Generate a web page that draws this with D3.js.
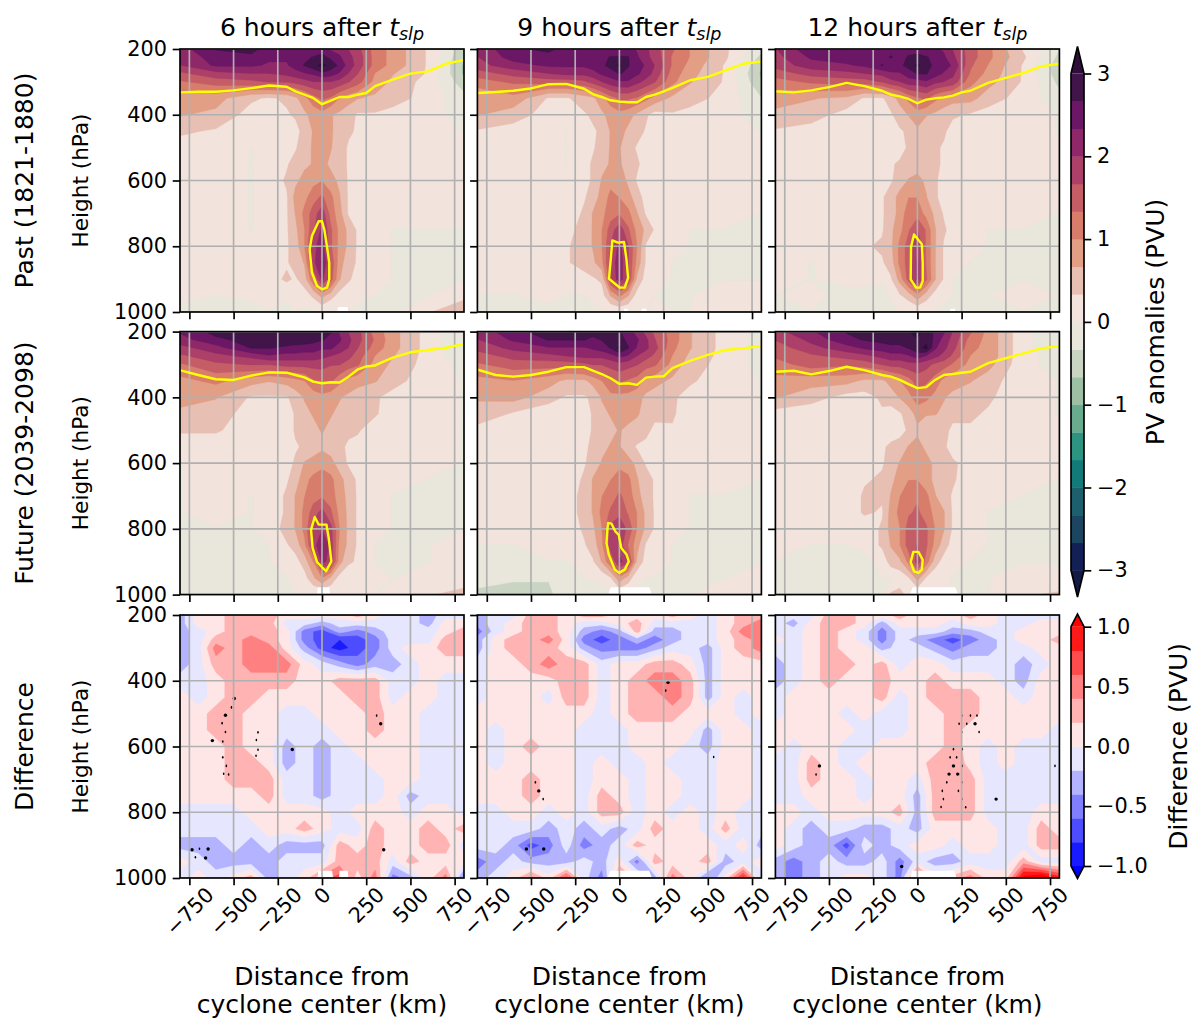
<!DOCTYPE html>
<html><head><meta charset="utf-8">
<script src="https://cdn.jsdelivr.net/npm/d3@7"></script>
<style>html,body{margin:0;background:#fff}svg text{font-family:"DejaVu Sans";fill:#000}</style>
</head><body><svg id="c" width="1192" height="1021"></svg>
<script>
// ---------- grids (km from centre, hPa) ----------
const pvX=[-800,-600,-400,-300,-200,-150,-100,-50,0,50,100,150,200,300,400,600,800];
const diffX=[-800,-700,-600,-500,-400,-300,-200,-100,0,100,200,300,400,500,600,700,800];
const gridP=[200,225,250,275,300,350,400,450,500,550,600,650,700,750,800,850,900,950,1000];
const tropX=[-800,-700,-600,-500,-400,-300,-200,-150,-100,-50,0,50,100,150,200,250,300,400,500,600,700,800];
const columnTitles=["6 hours after ","9 hours after ","12 hours after "];
const rowTitles=["Past (1821-1880)","Future (2039-2098)","Difference"];
const xTicks=[-750,-500,-250,0,250,500,750];
const yTicks=[200,400,600,800,1000];
const pvBarTicks=[-3,-2,-1,0,1,2,3];
const diffBarTicks=[-1,-0.5,0,0.5,1];
// ---------- PV anomalies, tenths of PVU ----------
const past6=[
[22,27,28,25,24,24,24,24,25,23,22,20,18,12,9,3,-5],
[21,25,26,24,24,25,26,27,28,26,24,21,19,12,9,3,-6],
[20,24,24,23,23,25,27,29,31,29,26,22,19,12,9,3,-7],
[16,19,20,20,21,22,23,24,26,25,23,20,17,10,7,3,-7],
[13,15,16,17,17,18,19,20,20,20,19,17,15,9,6,2,-5],
[8,8,4,3,4,6,9,12,14,13,10,8,7,6,5,2,-2],
[7,6,2,2,3,4,6,8,9,7,6,5,3,3,2,1,-1],
[4,3,1,1,2,2,5,7,8,7,6,4,3,2,2,1,0],
[2,2,0,1,2,3,6,7,8,7,5,3,2,1,1,1,1],
[1,1,0,1,3,5,6,7,8,6,5,3,2,1,1,1,1],
[1,1,0,1,4,6,8,9,10,8,6,3,2,1,1,1,1],
[1,1,0,1,3,8,9,12,14,11,7,3,2,1,1,1,1],
[1,1,0,1,3,7,11,15,19,12,8,3,2,1,1,1,1],
[1,1,0,1,3,6,10,16,21,14,9,6,3,1,0,0,0],
[1,1,1,1,3,5,10,19,22,14,9,6,3,1,0,0,0],
[1,1,1,2,3,5,7,19,24,16,8,5,3,1,0,0,0],
[1,1,1,2,4,3,5,13,21,15,7,4,2,1,0,0,0],
[1,0,1,1,1,1,2,4,8,5,2,1,1,0,-1,0,2],
[-1,-2,-2,0,-2,0,-1,0,0,-1,2,0,-1,-1,-1,3,7]];
const past9=[
[21,26,28,25,24,25,25,25,25,25,23,21,18,14,10,4,-2],
[20,25,25,25,24,25,26,27,27,27,24,21,19,13,10,4,-4],
[19,22,24,24,24,25,26,28,31,27,25,23,20,13,9,3,-6],
[15,18,20,21,21,22,24,25,27,26,24,22,19,12,8,3,-7],
[12,14,15,15,16,18,20,22,23,23,21,19,17,11,7,3,-6],
[7,9,3,3,5,6,9,12,14,14,13,11,9,6,5,2,-3],
[7,5,2,1,3,4,6,8,9,8,6,4,2,3,2,1,-1],
[3,2,1,0,2,3,4,7,8,6,5,3,1,1,1,1,0],
[2,1,1,0,1,3,5,7,7,5,3,2,1,1,1,1,1],
[1,1,1,0,2,4,6,7,7,6,4,2,1,1,1,1,1],
[1,1,1,1,2,4,7,9,9,6,3,2,1,1,1,1,1],
[1,1,1,2,3,5,8,11,10,8,5,2,1,1,1,1,1],
[1,1,1,1,4,7,9,12,13,11,7,3,1,1,1,1,0],
[1,2,2,2,5,7,10,15,19,14,9,6,3,1,0,0,0],
[1,3,2,3,5,7,10,17,21,17,10,3,2,1,0,0,0],
[1,3,3,3,5,6,9,18,22,17,9,3,1,0,0,0,0],
[1,1,3,1,2,3,4,17,22,17,6,2,1,0,0,0,0],
[0,0,1,0,0,1,2,7,11,7,2,1,0,0,0,1,1],
[-2,-3,-1,-2,-3,-1,0,0,0,0,0,0,1,0,0,2,2]];
const past12=[
[20,26,27,26,25,26,26,26,25,25,24,23,20,15,11,3,-3],
[19,24,25,25,26,27,26,27,28,27,26,24,21,15,11,4,-4],
[18,22,23,24,27,25,26,28,31,28,26,25,23,14,10,3,-5],
[15,18,19,20,21,23,23,25,27,27,25,23,21,13,9,3,-5],
[12,14,15,15,17,19,20,22,22,23,21,20,19,11,8,3,-4],
[8,7,6,3,3,5,8,11,13,14,11,9,8,8,5,2,-2],
[6,5,2,2,2,3,5,7,9,7,6,5,4,3,2,1,0],
[3,2,1,1,1,2,3,4,6,5,4,4,2,1,1,1,0],
[1,1,1,1,1,1,2,4,5,5,4,3,2,1,1,1,1],
[1,1,1,1,1,3,4,5,5,4,4,3,1,1,1,1,1],
[1,1,1,1,3,3,5,7,8,6,4,2,1,1,1,1,1],
[1,1,2,3,3,5,8,10,10,7,4,2,1,1,1,1,1],
[1,1,1,3,3,5,8,12,12,9,6,3,1,1,1,1,0],
[1,1,1,3,3,6,9,13,17,13,7,4,2,1,0,0,0],
[1,1,2,3,4,6,11,15,20,13,7,3,2,1,0,0,0],
[1,0,1,3,3,5,11,15,21,13,7,3,1,0,0,0,0],
[1,0,1,1,1,3,8,15,21,14,7,3,0,0,0,0,0],
[0,1,-1,-1,-2,1,3,5,9,5,2,1,0,0,0,1,0],
[-1,0,-1,-2,-2,-3,0,0,0,0,0,-1,0,0,0,0,0]];
const future6=[
[24,28,29,28,27,27,27,27,28,27,23,20,18,12,8,2,-3],
[22,26,28,29,29,28,29,28,27,26,24,21,18,13,8,2,-3],
[19,22,27,27,26,26,25,25,24,24,22,20,17,12,8,2,-3],
[16,19,21,23,22,22,22,22,21,20,19,18,15,10,7,2,-2],
[13,16,17,17,18,18,18,18,18,17,17,15,14,9,6,2,-1],
[9,11,8,7,8,9,10,13,14,14,11,9,8,7,5,1,0],
[8,7,3,3,3,5,7,8,9,8,7,6,5,4,2,1,0],
[6,5,2,1,1,4,6,7,8,7,6,4,4,4,1,1,0],
[4,4,1,1,1,4,5,6,7,6,4,4,4,1,1,1,0],
[1,1,1,1,1,3,4,5,6,5,4,3,2,1,1,1,0],
[0,1,1,1,2,4,7,8,9,8,5,3,2,1,1,1,0],
[0,1,1,1,3,5,9,11,12,11,8,5,3,1,1,0,0],
[0,1,0,1,4,7,10,12,13,12,8,6,3,1,0,0,0],
[0,1,0,1,4,7,11,15,18,14,9,6,3,1,0,0,0],
[-1,0,0,1,5,7,11,18,20,18,10,6,3,1,0,0,0],
[-1,-1,0,0,3,5,9,18,24,19,9,6,3,0,0,0,1],
[-1,0,0,0,1,2,5,10,21,19,8,4,3,0,0,0,1],
[-1,-1,0,0,0,1,2,6,10,6,2,1,1,1,0,1,1],
[-1,-3,-1,0,-1,0,0,0,0,0,0,1,1,0,1,3,5]];
const future9=[
[21,26,28,27,27,28,28,28,27,25,22,19,16,12,7,2,-1],
[20,24,27,27,27,26,27,27,28,26,24,21,17,12,7,2,-1],
[18,21,23,23,23,24,25,27,31,27,23,21,18,11,7,2,-1],
[15,18,19,20,21,21,21,22,24,23,20,18,16,10,6,2,-1],
[13,15,15,15,16,17,17,18,19,18,17,15,14,9,5,2,-1],
[9,10,8,6,6,8,10,13,14,13,12,9,8,6,4,1,0],
[7,8,5,3,3,4,7,9,9,9,8,6,5,4,2,1,0],
[6,3,1,1,1,4,6,7,8,8,7,6,5,4,1,1,0],
[2,1,1,1,1,4,5,6,7,6,6,5,2,3,1,1,1],
[1,1,1,1,2,5,6,7,7,5,3,2,1,2,1,1,1],
[1,1,1,1,3,5,7,8,9,8,6,3,2,1,1,1,1],
[1,1,1,1,4,7,9,10,12,11,7,5,3,1,1,1,0],
[1,1,1,1,5,7,10,12,14,12,8,5,3,1,0,0,0],
[1,1,1,1,5,7,11,14,16,13,10,6,3,1,0,0,0],
[1,1,1,1,4,6,10,18,19,16,10,6,3,1,0,0,0],
[0,0,1,1,3,5,9,19,19,13,8,3,1,0,0,0,0],
[-1,0,0,0,1,3,7,13,21,18,6,2,1,0,0,0,0],
[-2,-3,-3,-1,0,1,1,3,9,5,1,0,0,0,0,0,1],
[-4,-4,-4,-1,-2,-3,-2,0,0,0,-1,-2,0,0,0,2,3]];
const future12=[
[19,23,27,28,28,29,29,30,31,29,26,24,20,14,9,1,-3],
[17,21,26,27,28,28,28,30,30,29,26,22,19,12,9,1,-3],
[15,19,22,24,25,26,26,27,29,31,24,21,18,11,9,1,-2],
[14,16,18,19,21,22,22,23,25,23,21,19,16,10,9,1,-1],
[12,15,14,15,17,18,18,19,19,18,16,15,13,9,8,1,-1],
[9,8,8,6,6,8,10,12,15,14,12,9,8,7,5,1,0],
[7,5,2,2,4,5,7,9,12,11,9,7,6,5,4,1,0],
[2,1,1,1,3,2,3,5,8,7,7,6,4,4,3,1,0],
[1,1,1,1,3,2,2,4,6,5,4,4,3,3,2,1,1],
[1,1,1,1,3,4,5,7,8,6,5,4,2,3,1,1,1],
[1,1,1,1,3,5,7,9,10,8,6,5,4,2,1,1,1],
[1,1,1,3,4,6,8,10,10,8,6,5,4,1,1,1,0],
[1,1,1,4,4,7,10,12,13,11,7,5,3,1,1,0,0],
[1,1,1,4,3,8,11,13,14,12,9,7,3,1,0,0,0],
[1,1,1,1,4,8,10,15,16,14,10,7,3,1,0,0,0],
[1,0,0,1,4,7,10,15,17,14,9,5,2,1,0,0,0],
[0,-1,-1,-1,1,5,6,11,19,12,5,2,1,0,0,0,0],
[-1,-2,-3,-1,0,0,1,3,8,3,1,1,0,-2,0,1,1],
[-2,-3,-3,0,-2,4,5,2,0,0,0,0,-1,0,0,3,4]];
// ---------- differences, tenths of PVU ----------
const diff6=[
[-3,1,1,3,3,3,1,1,1,1,3,1,-1,-1,-3,-1,-1],
[-3,1,1,3,3,3,-1,-1,-3,-1,-1,-1,-1,-1,-3,1,1],
[-3,-1,1,3,3,3,1,-5,-7,-3,-5,-3,-1,-1,-1,1,3],
[-3,-1,3,3,5,3,1,-5,-7,-8,-7,-5,-1,-1,-1,3,3],
[-3,-1,5,3,5,5,1,-3,-7,-9,-7,-5,-1,1,1,3,3],
[-3,-1,3,3,5,5,5,1,-1,-3,-5,-3,-3,-1,1,1,1],
[-1,-1,1,3,3,3,3,1,1,3,3,3,-1,-1,1,-1,-1],
[1,-1,1,3,3,1,1,1,1,1,3,3,-1,1,1,-1,-1],
[1,1,3,3,1,1,-1,-1,1,1,1,3,1,1,-1,-1,-1],
[1,1,3,3,1,1,-1,-1,-1,1,1,3,1,1,-1,-1,-1],
[1,1,1,3,1,1,-3,-1,-3,-1,1,1,1,1,-1,-1,-1],
[1,1,1,3,3,1,-3,-1,-3,-1,-1,1,1,1,-1,-1,-1],
[1,1,1,3,3,3,-1,-1,-3,-1,-1,-1,1,1,-1,-1,-1],
[1,1,1,1,1,3,-1,-1,-3,-1,-1,-1,1,-3,-1,-1,-1],
[-1,-1,-1,-1,1,1,1,1,1,-1,1,1,1,-1,1,1,-1],
[-1,-1,-1,-1,-1,1,1,3,1,-1,-1,3,1,1,3,1,3],
[-3,-3,-3,-1,-3,-1,-3,-3,-3,3,1,3,1,1,3,3,-1],
[1,-1,-3,-3,-3,-3,-1,-1,-1,3,3,3,-1,3,1,1,1],
[-1,1,-1,1,3,-3,-1,1,5,7,1,5,-5,-3,1,5,-5]];
const diff9=[
[-3,-1,-1,3,3,1,3,3,1,1,1,3,1,-1,1,3,3],
[-3,-1,1,3,3,1,-1,-1,1,3,-1,-1,-1,-1,1,3,5],
[-5,-1,1,3,3,1,-3,-5,-3,3,-3,-3,-1,-1,1,5,6],
[-3,1,3,3,5,1,-5,-7,-5,-3,-5,-3,-1,-1,1,3,5],
[-3,1,3,3,3,1,-3,-5,-5,-5,-3,-1,-1,-3,1,3,5],
[-1,1,1,3,5,3,3,-1,1,1,3,3,1,-3,1,1,1],
[-1,1,1,1,1,3,3,-1,1,3,5,5,3,-3,1,1,1],
[-1,1,1,1,-1,3,3,-1,1,3,3,5,3,-3,1,-1,1],
[1,1,1,1,1,1,1,-1,1,3,3,3,1,1,1,-1,1],
[1,-1,1,1,1,1,-1,-1,-1,1,1,1,1,-3,1,1,-1],
[1,-1,1,3,1,1,-1,-1,-1,1,1,1,-1,-3,1,1,-1],
[1,-1,1,1,1,1,-1,1,-1,-1,1,-1,-1,-1,1,1,-1],
[1,1,1,3,1,1,-1,1,1,-1,1,1,-1,-1,1,1,-1],
[1,1,1,3,1,1,-1,3,1,-1,1,1,-1,-1,1,1,-1],
[-1,-1,1,1,-1,1,-1,3,3,-1,1,-1,1,-1,1,-1,-1],
[-1,-1,-1,-1,-3,-1,-3,-1,-3,-1,3,1,1,-1,3,-1,-1],
[-1,-1,-3,-7,-5,-1,-5,-3,-1,3,1,1,1,1,-1,1,-3],
[-5,-3,-1,-3,-3,-3,-1,-3,1,-5,3,1,1,3,-3,-1,1],
[-3,-1,1,5,1,7,-1,-5,5,1,-3,5,1,-5,1,9,-1]];
const diff12=[
[-1,-1,-1,3,3,1,1,3,1,1,1,3,1,-1,-1,-1,-1],
[-1,-3,1,3,3,1,-3,1,1,1,-1,1,1,-1,-1,1,1],
[-1,-1,1,3,1,-1,-5,-1,-1,-1,-3,-3,-1,-1,1,1,1],
[1,-1,1,3,1,-1,-5,-1,-3,-5,-7,-5,-3,-1,1,1,3],
[-1,-1,1,3,1,1,-3,-1,-1,-3,-5,-3,-3,-1,-1,1,1],
[-3,-1,1,3,3,1,3,-1,1,1,-1,-1,-1,-1,-3,-1,1],
[-3,-1,1,3,1,1,3,1,1,3,1,1,1,-1,-3,1,1],
[-1,1,1,1,1,1,3,-1,1,3,3,3,1,1,-1,1,1],
[-1,1,1,1,-1,1,-1,-1,1,1,3,3,1,1,1,1,1],
[1,1,1,1,1,-1,-1,-1,1,1,3,1,1,1,1,1,-1],
[1,-1,1,1,-1,-1,1,1,1,1,3,1,-1,1,-1,-1,-1],
[-1,-1,3,1,-1,1,1,1,1,3,4,1,-1,1,-1,-1,-1],
[-1,-1,3,1,1,-1,1,1,-1,3,4,3,-1,-1,-1,-1,-1],
[-1,-1,1,1,1,-1,1,1,-3,3,3,3,-1,-1,-1,-1,-1],
[1,1,-1,1,1,1,1,3,-3,3,3,3,-1,-1,-1,1,1],
[1,-1,-3,-1,-1,-3,-3,-1,-3,1,1,1,1,-1,-1,3,1],
[1,-1,-3,-3,-7,-1,-3,-1,1,1,-1,1,1,-1,-1,3,3],
[-3,-5,-3,-1,-3,-3,-1,-5,-1,-3,-3,-1,-1,-1,3,-1,-1],
[-3,-5,-3,-1,1,1,-1,-5,9,1,3,5,1,1,11,13,9]];
// ---------- yellow contours ----------
const tropPast6=[332,330,330,326,319,311,315,329,339,349,368,357,346,346,339,334,313,293,275,268,245,234];
const tropPast9=[334,331,327,320,307,306,321,337,346,356,360,362,362,346,339,329,318,295,285,265,245,238];
const tropPast12=[329,332,326,316,303,313,327,339,344,352,365,354,350,347,342,332,327,303,288,273,253,245];
const tropFuture6=[318,332,345,347,334,324,325,332,339,352,357,354,355,337,316,306,303,279,263,256,249,238];
const tropFuture9=[316,332,337,332,322,308,308,319,329,342,359,357,362,340,337,336,311,289,271,256,251,244];
const tropFuture12=[322,319,330,320,307,317,332,337,347,360,372,369,347,332,329,325,322,296,281,266,251,244];
const corePast6=[[-19,724],[0,724],[13,749],[28,800],[41,850],[41,901],[28,926],[0,931],[-28,921],[-57,880],[-70,810],[-57,769]];
const corePast9=[[-40,782],[-8,789],[26,787],[40,840],[49,896],[30,926],[2,926],[-59,899],[-49,840]];
const corePast12=[[-19,764],[25,794],[30,851],[30,906],[15,926],[-8,926],[-38,901],[-36,802]];
const coreFuture6=[[-41,764],[-19,787],[25,787],[38,828],[53,899],[23,929],[-28,901],[-53,858],[-62,803]];
const coreFuture9=[[-64,782],[-45,784],[-23,808],[-4,818],[11,858],[40,878],[53,899],[30,924],[-2,934],[-26,924],[-60,878],[-73,843],[-68,802]];
const coreFuture12=[[-23,870],[6,870],[30,894],[25,924],[6,934],[-19,929],[-38,901]];
// ---------- blank (no data) areas near the surface: [from km, to km, top hPa] ----------
const gapPast6=[[85,150,985]];
const gapPast9=[[25,48,990],[125,155,990]];
const gapPast12=[[185,215,990]];
const gapFuture6=[[-30,47,978]];
const gapFuture9=[[-70,190,978]];
const gapFuture12=[[-50,237,978]];
const gapDiff6=[[-28,65,978],[95,150,978]];
const gapDiff9=[[-73,190,978]];
const gapDiff12=[[-50,230,978]];
// ---------- significance stippling [km, hPa] ----------
const stipStrong6=[[-496,454],[-546,505],[-620,582],[-168,609],[-735,914],[-644,912],[-658,939],[349,914],[332,531]];
const stipWeak6=[[-512,481],[-565,529],[-546,556],[-561,585],[-561,633],[-541,659],[-556,683],[-528,685],[-373,628],[-362,610],[-371,580],[-362,557],[309,506],[-716,937],[-693,911]];
const stipStrong9=[[275,405],[-456,735],[-526,912],[-428,912]];
const stipWeak9=[[262,430],[-475,709],[-431,760],[533,632],[-501,939]];
const stipStrong12=[[-554,659],[326,531],[204,659],[179,684],[228,684],[445,760],[-89,965]];
const stipWeak12=[[-573,685],[251,506],[300,506],[337,506],[279,531],[236,531],[251,556],[349,556],[204,608],[254,608],[185,633],[222,633],[254,659],[251,709],[166,709],[232,735],[141,735],[251,760],[147,760],[134,784],[273,785],[778,659]];
// ---------- colour levels ----------
const pvLevels=[-3,-8/3,-7/3,-2,-5/3,-4/3,-1,-2/3,-1/3,0,1/3,2/3,1,4/3,5/3,2,7/3,8/3,3];
const pvColors=["#132056","#1b4560","#1e5f6d","#137a7a","#2d9482","#68ab8f","#9dbfa4","#c9d4c3","#e9e6dc","#f3e3dd","#e8bfb3","#e29f86","#d87d6c","#c55d66","#ac4068","#8f2869","#6b1766","#41154a","#2f0e3a"];
const pvUnder="#131a45";
const diffLevels=[-1,-0.8,-0.6,-0.4,-0.2,0,0.2,0.4,0.6,0.8,1];
const diffColors=["#1a1aff","#4d4dff","#8080ff","#b3b3ff","#e6e6ff","#ffe6e6","#ffb3b3","#ff8080","#ff4d4d","#ff1a1a","#ff0000"];
const diffUnder="#0000ff";

// ---------- layout ----------
const svg=d3.select("#c");
const colLeft=[180,477.4,775.4], panelW=284;
const rowTop=[49,331.6,615], panelH=263;
const FS=20.83, LS=25, HS=21.6, LW=1.67, TICK=7.3, GRID="#b0b0b0";
const minus=s=>String(s).replace("-","\u2212");
const panels=[
 [past6,pvX,tropPast6,corePast6,gapPast6,null,null],
 [past9,pvX,tropPast9,corePast9,gapPast9,null,null],
 [past12,pvX,tropPast12,corePast12,gapPast12,null,null],
 [future6,pvX,tropFuture6,coreFuture6,gapFuture6,null,null],
 [future9,pvX,tropFuture9,coreFuture9,gapFuture9,null,null],
 [future12,pvX,tropFuture12,coreFuture12,gapFuture12,null,null],
 [diff6,diffX,null,null,gapDiff6,stipStrong6,stipWeak6],
 [diff9,diffX,null,null,gapDiff9,stipStrong9,stipWeak9],
 [diff12,diffX,null,null,gapDiff12,stipStrong12,stipWeak12]];
const defs=svg.append("defs");
panels.forEach((p,i)=>{
  const [vals,gx,trop,core,gaps,strong,weak]=p;
  const col=i%3,row=Math.floor(i/3),isDiff=row===2;
  const g=svg.append("g").attr("transform",`translate(${colLeft[col]},${rowTop[row]})`);
  const x=d3.scaleLinear().domain([-803,803]).range([0,panelW]);
  const y=d3.scaleLinear().domain([200,1000]).range([0,panelH]);
  const cid="clip"+i;
  defs.append("clipPath").attr("id",cid).append("rect").attr("width",panelW).attr("height",panelH);
  const body=g.append("g").attr("clip-path",`url(#${cid})`);
  const levels=isDiff?diffLevels:pvLevels, colors=isDiff?diffColors:pvColors;
  body.append("rect").attr("width",panelW).attr("height",panelH).attr("fill",isDiff?diffUnder:pvUnder);
  const xi=d3.scaleLinear().domain(d3.range(gx.length)).range(gx);
  const yi=d3.scaleLinear().domain(d3.range(gridP.length)).range(gridP);
  const proj=d3.geoTransform({point(a,b){this.stream.point(x(xi(a-.5)),y(yi(b-.5)));}});
  const path=d3.geoPath(proj);
  const flat=vals.flat().map(v=>isDiff?v/10:(v-.1)/10);
  const gen=d3.contours().size([gx.length,gridP.length]).smooth(true);
  levels.forEach((lv,k)=>{
    body.append("path").attr("d",path(gen.contour(flat,lv))).attr("fill",colors[k])
      .attr("stroke",colors[k]).attr("stroke-width",.3);
  });
  const pts=d3.line().x(d=>x(d[0])).y(d=>y(d[1]));
  gaps.forEach(d=>{
    const m=(d[1]-d[0])*.08;
    body.append("path").attr("fill","#fff")
      .attr("d",pts([[d[0],1010],[d[0]+m,d[2]],[d[1]-m,d[2]],[d[1],1010]]));
  });
  if(strong){
    body.selectAll(".s").data(strong).join("circle").attr("cx",d=>x(d[0])).attr("cy",d=>y(d[1])).attr("r",1.7).attr("fill","#000");
    body.selectAll(".w").data(weak).join("ellipse").attr("cx",d=>x(d[0])).attr("cy",d=>y(d[1])).attr("rx",.8).attr("ry",1.3).attr("fill","#000");
  }
  // grid
  body.selectAll(".gx").data(xTicks).join("line").attr("x1",d=>x(d)).attr("x2",d=>x(d)).attr("y1",0).attr("y2",panelH).attr("stroke",GRID).attr("stroke-width",LW);
  body.selectAll(".gy").data(yTicks).join("line").attr("y1",d=>y(d)).attr("y2",d=>y(d)).attr("x1",0).attr("x2",panelW).attr("stroke",GRID).attr("stroke-width",LW);
  // yellow contours
  if(trop){
    body.append("path").attr("fill","none").attr("stroke","#ffff00").attr("stroke-width",2.4).attr("stroke-linejoin","round")
      .attr("d",pts(tropX.map((k,j)=>[k,trop[j]])));
    body.append("path").attr("fill","none").attr("stroke","#ffff00").attr("stroke-width",2.4).attr("stroke-linejoin","round")
      .attr("d",d3.line().x(d=>x(d[0])).y(d=>y(d[1])).curve(d3.curveLinearClosed)(core));
  }
  // axes
  const ax=d3.axisBottom(x).tickValues(xTicks).tickSize(TICK).tickPadding(3).tickFormat(row===2?minus:"");
  const ag=g.append("g").attr("transform",`translate(0,${panelH})`).call(ax);
  const ay=d3.axisLeft(y).tickValues(yTicks).tickSize(TICK).tickPadding(5.8).tickFormat(col===0?minus:"");
  const yg=g.append("g").call(ay);
  [ag,yg].forEach(a=>{a.select(".domain").remove();a.selectAll("line").attr("stroke","#000").attr("stroke-width",LW);
    a.selectAll("text").attr("font-size",FS).attr("font-family","DejaVu Sans").attr("fill","#000");});
  if(row===2) ag.selectAll(".tick text").each(function(){
    const t=d3.select(this),w=this.getComputedTextLength(),h=(w+14)*Math.SQRT1_2;
    t.attr("y",null).attr("dy",null).attr("text-anchor","middle").attr("dominant-baseline","central")
     .attr("transform",`translate(0,${TICK+1+h/2}) rotate(-45)`);
  });
  g.append("rect").attr("width",panelW).attr("height",panelH).attr("fill","none").attr("stroke","#000").attr("stroke-width",LW);
  // labels
  if(row===0){
    const t=g.append("text").attr("x",panelW/2).attr("y",-13).attr("text-anchor","middle").attr("font-size",LS);
    t.append("tspan").text(columnTitles[col]);
    t.append("tspan").attr("font-style","italic").text("t");
    t.append("tspan").attr("font-style","italic").attr("font-size",LS*.7).attr("dy",4).text("slp");
  }
  if(col===0){
    g.append("text").attr("transform",`translate(-92,${panelH/2}) rotate(-90)`).attr("text-anchor","middle").attr("font-size",HS).text("Height (hPa)");
    g.append("text").attr("transform",`translate(-147,${panelH/2}) rotate(-90)`).attr("text-anchor","middle").attr("font-size",LS).text(rowTitles[row]);
  }
  if(row===2){
    [["Distance from",107],["cyclone center (km)",135]].forEach(([s,dy])=>
      g.append("text").attr("x",panelW/2).attr("y",panelH+dy).attr("text-anchor","middle").attr("font-size",LS).text(s));
  }
});
// ---------- colour bars ----------
function bar(levels,colors,under,yTop,yBot,tipTop,tipBot,ticks,fmt,label,labelX){
  const bx=1071,bw=13;
  const cy=d3.scaleLinear().domain([levels[0],levels[levels.length-1]]).range([yBot,yTop]);
  const g=svg.append("g");
  d3.pairs(levels).forEach(([a,b],k)=>{
    g.append("rect").attr("x",bx).attr("width",bw).attr("y",cy(b)).attr("height",cy(a)-cy(b)+.4).attr("fill",colors[k]);
  });
  g.append("path").attr("d",`M${bx},${yTop}L${bx+bw/2},${tipTop}L${bx+bw},${yTop}Z`).attr("fill",colors[colors.length-1]);
  g.append("path").attr("d",`M${bx},${yBot}L${bx+bw/2},${tipBot}L${bx+bw},${yBot}Z`).attr("fill",under);
  g.append("path").attr("d",`M${bx},${yTop}L${bx+bw/2},${tipTop}L${bx+bw},${yTop}V${yBot}L${bx+bw/2},${tipBot}L${bx},${yBot}Z`)
    .attr("fill","none").attr("stroke","#000").attr("stroke-width",LW);
  const a=g.append("g").attr("transform",`translate(${bx+bw},0)`).call(d3.axisRight(cy).tickValues(ticks).tickSize(TICK).tickPadding(5.8).tickFormat(fmt));
  a.select(".domain").remove();
  a.selectAll("line").attr("stroke","#000").attr("stroke-width",LW);
  a.selectAll("text").attr("font-size",FS).attr("font-family","DejaVu Sans").attr("fill","#000");
  g.append("text").attr("transform",`translate(${labelX},${(yTop+yBot)/2}) rotate(-90)`).attr("text-anchor","middle").attr("font-size",LS).text(label);
}
bar(pvLevels,pvColors,pvUnder,73.5,570.3,46.5,597,pvBarTicks,d=>minus(d),"PV anomalies (PVU)",1164);
bar(diffLevels,diffColors,diffUnder,626.7,866,614,878.5,diffBarTicks,d=>minus(d3.format(".1f")(d)),"Difference (PVU)",1187);
</script></body></html>
